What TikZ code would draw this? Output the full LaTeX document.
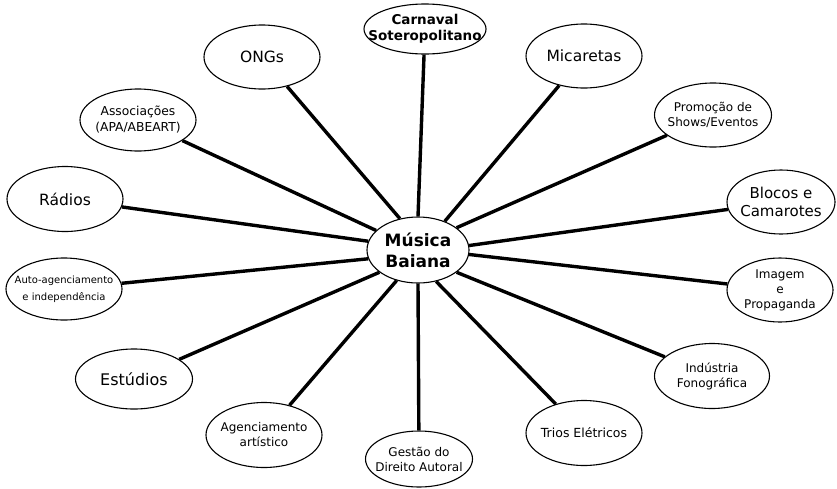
\documentclass[tikz,border=0pt]{standalone}
\usepackage{fontspec}
\setmainfont{DejaVu Sans}
\usetikzlibrary{shapes.geometric,backgrounds}
\tikzset{
  ell/.style={ellipse, draw, line width=1.1pt, fill=white, inner sep=0pt,
              minimum width=116pt, minimum height=64pt},
  lbl/.style={align=center, inner sep=0pt},
  spoke/.style={line width=3.4pt},
  big/.style={font=\fontsize{15.5}{18}\selectfont},
  small/.style={font=\fontsize{12}{15}\selectfont},
}
\begin{document}
\begin{tikzpicture}[x=1pt,y=-1pt]
\useasboundingbox (0,0) rectangle (837,488);
% centre
\node[ell, minimum width=102pt, minimum height=66pt] (c) at (418,250) {};
\node[lbl, font=\bfseries\fontsize{17}{21}\selectfont] (cT) at (c) {Música\\Baiana};
% outer nodes
\node[ell, minimum width=122pt, minimum height=50pt] (carn) at (425,29) {};
\node[lbl, font=\bfseries\fontsize{13.5}{15.5}\selectfont] (carnT) at (carn) {Carnaval\\Soteropolitano};
\node[ell] (ongs) at (262,57) {};
\node[lbl, big] (ongsT) at (ongs) {ONGs};
\node[ell] (mica) at (584,56) {};
\node[lbl, big] (micaT) at (mica) {Micaretas};
\node[ell, minimum height=62pt] (asso) at (138,120) {};
\node[lbl, font=\fontsize{12.3}{16}\selectfont] (assoT) at (asso) {Associações\\(APA/ABEART)};
\node[ell, minimum width=117pt] (prom) at (713,115) {};
\node[lbl, font=\fontsize{12}{15}\selectfont] (promT) at (prom) {Promoção de\\Shows/Eventos};
\node[ell, minimum height=65pt] (radi) at (65,199) {};
\node[lbl, big] (radiT) at (radi) {Rádios};
\node[ell, minimum width=108pt] (bloc) at (781,202) {};
\node[lbl, font=\fontsize{15}{18}\selectfont] (blocT) at (bloc) {Blocos e\\Camarotes};
\node[ell, minimum height=62pt] (auto) at (64,289) {};
\node[lbl, font=\fontsize{10}{17}\selectfont] (autoT) at (auto) {Auto-agenciamento\\e independência};
\node[ell, minimum width=106pt] (imag) at (780,290) {};
\node[lbl, small] (imagT) at (imag) {Imagem\\e\\Propaganda};
\node[ell, minimum width=117pt, minimum height=60pt] (estu) at (134,379) {};
\node[lbl, font=\fontsize{16}{18}\selectfont] (estuT) at (estu) {Estúdios};
\node[ell, minimum width=115pt, minimum height=65pt] (indu) at (712,376) {};
\node[lbl, small] (induT) at (indu) {Indústria\\Fonográfica};
\node[ell, minimum height=65pt] (agen) at (264,435) {};
\node[lbl, small] (agenT) at (agen) {Agenciamento\\artístico};
\node[ell, minimum width=107pt, minimum height=56pt] (gest) at (419,459) {};
\node[lbl, small] (gestT) at (gest) {Gestão do\\Direito Autoral};
\node[ell, minimum height=65pt] (trio) at (584,433) {};
\node[lbl, font=\fontsize{12.5}{15}\selectfont] (trioT) at (trio) {Trios Elétricos};
% spokes
\begin{scope}[on background layer]
\draw[spoke] (c.90) -- (carn);
\draw[spoke] (c.120) -- (ongs);
\draw[spoke] (c.47) -- (mica);
\draw[spoke] (c.155) -- (asso);
\draw[spoke] (c.30) -- (prom);
\draw[spoke] (c.170) -- (radi);
\draw[spoke] (c.5) -- (bloc);
\draw[spoke] (c.190) -- (auto);
\draw[spoke] (c.355) -- (imag);
\draw[spoke] (c.210) -- (estu);
\draw[spoke] (c.330) -- (indu);
\draw[spoke] (c.235) -- (agen);
\draw[spoke] (c.270) -- (gest);
\draw[spoke] (c.300) -- (trio);
\end{scope}
\end{tikzpicture}
\end{document}
